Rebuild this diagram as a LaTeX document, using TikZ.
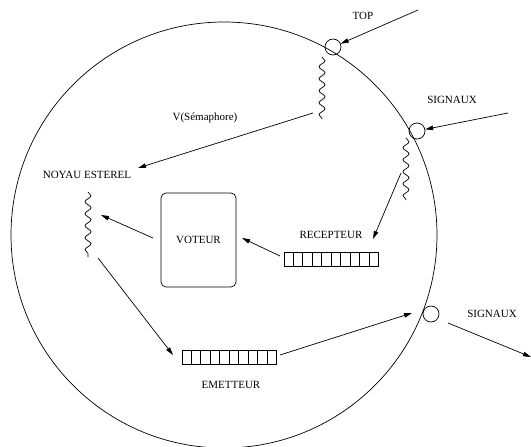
\documentclass[tikz,border=0pt]{standalone}
\usepackage{fontspec}
\setmainfont{Liberation Serif}
\usetikzlibrary{arrows.meta,decorations.pathmorphing,calc}
\begin{document}
\begin{tikzpicture}[x=1pt,y=-1pt,
  line width=0.7pt,
  >={Triangle[length=8pt,width=4.5pt]},
  lbl/.style={font=\fontsize{11}{13}\selectfont, inner sep=0pt},
  port/.style={circle,draw,minimum size=16pt,inner sep=0pt},
  wave/.style={decorate,decoration={snake,segment length=12pt,amplitude=3pt}},
  queue/.style={draw,minimum width=94pt,minimum height=14pt,inner sep=0pt},
  procbox/.style={draw,rounded corners=5pt,minimum width=75pt,minimum height=94pt,
                  font=\fontsize{11}{13}\selectfont}
]
\useasboundingbox (0,0) rectangle (531,447);

% system boundary
\draw (224,235) circle[radius=213];

% ports on the boundary
\node[port] (ptop) at (333,47) {};
\node[port] (pin)  at (417,131) {};
\node[port] (pout) at (431,314) {};

% labels
\node[lbl] (ltop)  at (363,16)  {TOP};
\node[lbl] (lsin)  at (452,100) {SIGNAUX};
\node[lbl] (lsout) at (492,314) {SIGNAUX};
\node[lbl] (lsem)  at (205,118) {V(Sémaphore)};
\node[lbl] (noyau) at (87,175)  {NOYAU ESTEREL};
\node[lbl] (lrec)  at (331,235) {RECEPTEUR};
\node[lbl] (lemi)  at (231,385) {EMETTEUR};

% voter process
\node[procbox] (vot) at (198.5,240) {VOTEUR};

% message queues
\node[queue] (rec) at (331,259.5) {};
\node[queue] (emi) at (229,357) {};
\foreach \q in {rec,emi}
  \foreach \i in {1,...,9}
    \draw[line width=0.5pt] ($(\q.south west)!\i/10!(\q.south east)$) -- ($(\q.north west)!\i/10!(\q.north east)$);

% threads (wavy lines)
\coordinate (wta) at (322,57);  \coordinate (wtb) at (322,119);
\coordinate (wsa) at (406,138); \coordinate (wsb) at (406,200);
\coordinate (wna) at (88,192);  \coordinate (wnb) at (88,257);
\draw[wave] (wta) -- (wtb);
\draw[wave] (wsa) -- (wsb);
\draw[wave] (wna) -- (wnb);

% connector end points
\coordinate (topsrc) at (418,10);
\coordinate (insrc)  at (508,113);
\coordinate (semsrc) at (313,113);
\coordinate (semdst) at (138,168);
\coordinate (recsrc) at (401,173);
\coordinate (recdst) at (373,239);
\coordinate (r2vsrc) at (280,256);
\coordinate (r2vdst) at (242,238);
\coordinate (v2nsrc) at (153,238);
\coordinate (v2ndst) at (101,215);
\coordinate (n2esrc) at (98,258);
\coordinate (n2edst) at (173,355);
\coordinate (e2psrc) at (280,355);
\coordinate (e2pdst) at (412,313);
\coordinate (outsrc) at (448,323);
\coordinate (outdst) at (531,357);

% connectors
\draw[->] (topsrc) -- (ptop);
\draw[->] (insrc) -- (pin);
\draw[->] (semsrc) -- (semdst);
\draw[->] (recsrc) -- (recdst);
\draw[->] (r2vsrc) -- (r2vdst);
\draw[->] (v2nsrc) -- (v2ndst);
\draw[->] (n2esrc) -- (n2edst);
\draw[->] (e2psrc) -- (e2pdst);
\draw[->] (outsrc) -- (outdst);
\end{tikzpicture}
\end{document}
